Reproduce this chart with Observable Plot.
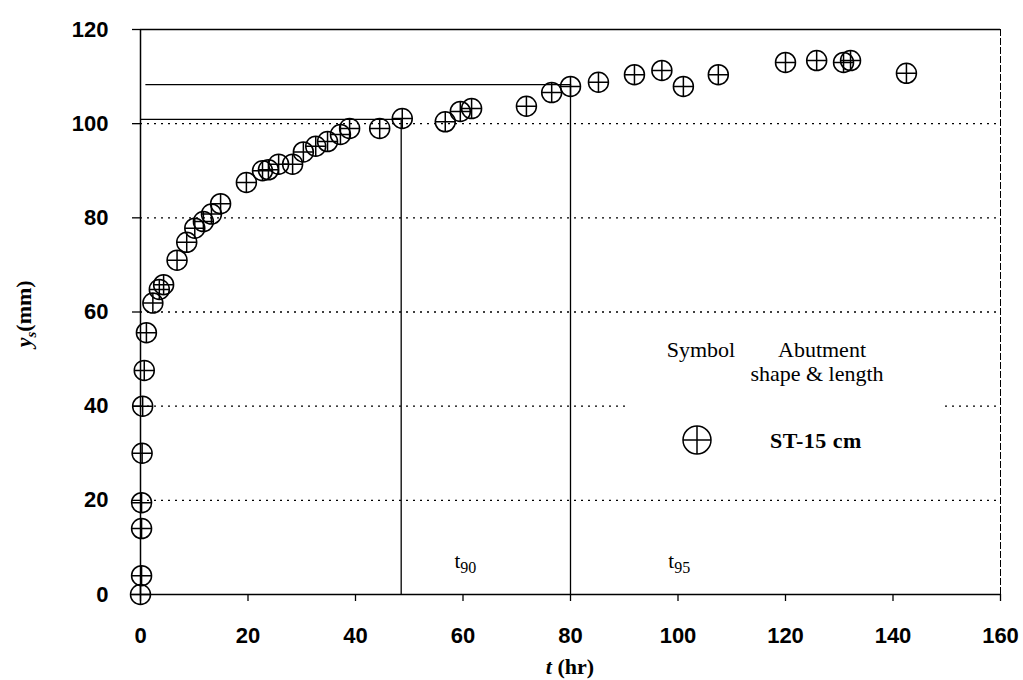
<!DOCTYPE html>
<html>
<head>
<meta charset="utf-8">
<script src="https://cdn.jsdelivr.net/npm/d3@7"></script>
<script src="https://cdn.jsdelivr.net/npm/@observablehq/plot@0.6"></script>
<style>
  html, body { margin: 0; padding: 0; background: #fff; }
  #chart { position: relative; width: 1023px; height: 680px; }
</style>
</head>
<body>
<div id="chart"></div>
<script>
// ---- data ----
const timeHr = [0, 0.2, 0.2, 0.2, 0.3, 0.4, 0.7, 1.1, 2.3, 3.5, 4.3, 6.8, 8.6, 10.1, 11.7, 13.2, 14.9,
  19.7, 22.7, 23.8, 25.7, 28.3, 30.3, 32.6, 34.8, 37.2, 38.9, 44.5, 48.7, 56.7, 59.5, 61.6,
  71.8, 76.5, 80.0, 85.2, 91.9, 97.0, 101.0, 107.5, 120.0, 125.8, 130.8, 132.1, 142.5];
const scourMm = [0, 4, 14, 19.5, 30, 40, 47.6, 55.6, 61.9, 64.8, 65.8, 71, 74.8, 77.8, 79.2, 80.8, 83,
  87.5, 90, 90.2, 91.4, 91.4, 94, 95.2, 96.2, 97.7, 99, 99, 101.1, 100.4, 102.6, 103.2,
  103.7, 106.6, 107.9, 108.8, 110.4, 111.3, 107.9, 110.4, 113, 113.4, 113, 113.4, 110.7];
const xTicks = [0, 20, 40, 60, 80, 100, 120, 140, 160];
const yTicks = [0, 20, 40, 60, 80, 100, 120];
const gridY = [20, 40, 60, 80, 100];
const t90 = 48.5, y90 = 100.9;
const t95 = 80, y95 = 108.3;
const legendLabel = "ST-15 cm";

const points = timeHr.map((t, i) => ({t, y: scourMm[i]}));

// circle-with-cross symbol
const crossCircle = {
  draw(ctx, size) {
    const r = Math.sqrt(size / Math.PI);
    ctx.moveTo(r, 0);
    ctx.arc(0, 0, r, 0, 2 * Math.PI);
    ctx.moveTo(-r, 0); ctx.lineTo(r, 0);
    ctx.moveTo(0, -r); ctx.lineTo(0, r);
  }
};

const sans = "'Liberation Sans', Arial, sans-serif";
const serif = "'Liberation Serif', 'Times New Roman', serif";

const plot = Plot.plot({
  width: 1023,
  height: 680,
  marginLeft: 140,
  marginRight: 23,
  marginTop: 29,
  marginBottom: 86,
  style: {fontFamily: sans, fontSize: "22px", color: "#000", background: "#fff", overflow: "visible"},
  x: {domain: [0, 160], label: null},
  y: {domain: [0, 120], label: null},
  marks: [
    Plot.ruleY(gridY, {stroke: "#000", strokeWidth: 1.3, strokeDasharray: "2,5"}),
    // frame
    Plot.ruleY([120], {stroke: "#000", strokeWidth: 1.4}),
    Plot.ruleX([160], {stroke: "#000", strokeWidth: 1, strokeDasharray: "7,2"}),
    Plot.ruleX([0], {stroke: "#000", strokeWidth: 1.5}),
    Plot.ruleY([0], {stroke: "#000", strokeWidth: 1.5}),
    // t90 / t95 guide lines
    Plot.ruleY([y90], {x1: 0, x2: t90, stroke: "#000", strokeWidth: 1.3}),
    Plot.ruleX([t90], {y1: 0, y2: y90, stroke: "#000", strokeWidth: 1.3}),
    Plot.ruleY([y95], {x1: 1, x2: t95, stroke: "#000", strokeWidth: 1.3}),
    Plot.ruleX([t95], {y1: 0, y2: y95, stroke: "#000", strokeWidth: 1.3}),
    Plot.axisX({ticks: xTicks, tickSize: 7, tickPadding: 26, fontSize: 22, fontWeight: "bold", label: null, strokeWidth: 1.3}),
    Plot.axisY({ticks: yTicks, tickSize: 8, tickPadding: 24, fontSize: 22, fontWeight: "bold", label: null, strokeWidth: 1.3}),
    Plot.dot(points, {x: "t", y: "y", symbol: crossCircle, r: 10, stroke: "#000", strokeWidth: 1.5, fill: "none"})
  ]
});

document.getElementById("chart").appendChild(plot);

const svg = d3.select(plot);
const sx = plot.scale("x"), sy = plot.scale("y");

// legend (white box interrupting the grid)
const lg = svg.append("g").attr("font-family", serif).attr("font-size", 22)
  .attr("fill", "#000").attr("text-anchor", "start");
lg.append("rect").attr("x", 628).attr("y", 326).attr("width", 312).attr("height", 150).attr("fill", "#fff");
lg.append("text").attr("x", 701).attr("y", 357).attr("text-anchor", "middle").text("Symbol");
lg.append("text").attr("x", 822).attr("y", 357).attr("text-anchor", "middle").text("Abutment");
lg.append("text").attr("x", 817).attr("y", 381).attr("text-anchor", "middle").text("shape & length");
const ls = lg.append("g").attr("transform", "translate(697,440)").attr("fill", "none").attr("stroke", "#000").attr("stroke-width", 1.5);
ls.append("circle").attr("r", 14);
ls.append("line").attr("x1", -14).attr("x2", 14);
ls.append("line").attr("y1", -14).attr("y2", 14);
lg.append("text").attr("x", 770).attr("y", 448).attr("font-weight", "bold").attr("letter-spacing", 0.5).text(legendLabel);

// t90 / t95 labels
function subLabel(t, base, sub) {
  const tx = svg.append("text").attr("font-family", serif).attr("font-size", 21)
    .attr("x", sx.apply(t)).attr("y", 568).attr("text-anchor", "start");
  tx.append("tspan").text(base);
  tx.append("tspan").attr("dy", 5).attr("font-size", 16).text(sub);
}
subLabel(t90 + 10, "t", "90");
subLabel(t95 + 18.3, "t", "95");

// axis titles
const xt = svg.append("text").attr("font-family", serif).attr("font-size", 22).attr("font-weight", "bold")
  .attr("x", sx.apply(80)).attr("y", 674).attr("text-anchor", "middle");
xt.append("tspan").attr("font-style", "italic").text("t");
xt.append("tspan").text(" (hr)");

const yt = svg.append("text").attr("font-family", serif).attr("font-size", 22).attr("font-weight", "bold")
  .attr("transform", `translate(31,${sy.apply(59.5)}) rotate(-90)`).attr("text-anchor", "middle");
yt.append("tspan").attr("font-style", "italic").text("y");
yt.append("tspan").attr("font-style", "italic").attr("font-size", 15).attr("dy", 5).text("s");
yt.append("tspan").attr("dy", -5).text("(mm)");
</script>
</body>
</html>
